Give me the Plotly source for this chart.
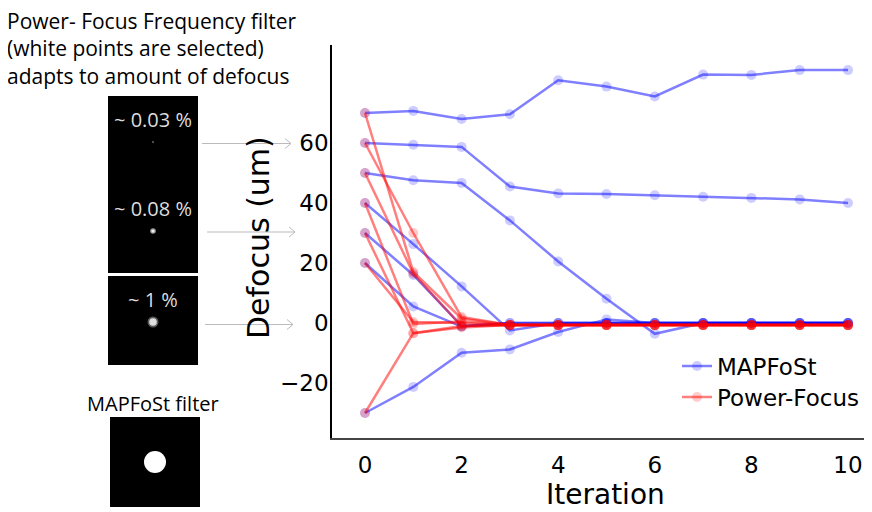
import plotly.graph_objects as go

ITER = list(range(11))

# MAPFoSt runs (defocus per iteration)
MAP_70 = [70, 70.7, 68, 69.6, 80.9, 78.8, 75.5, 82.8, 82.7, 84.3, 84.3]
MAP_60 = [60, 59.4, 58.7, 45.5, 43.2, 43.0, 42.6, 42.1, 41.7, 41.2, 40.0]
MAP_50 = [50, 47.6, 46.7, 34.2, 20.5, 8.1, -3.6, 0, 0, 0, 0]
MAP_40 = [40, 26.3, 12.2, -2.5, 0, 0, 0, 0, 0, 0, 0]
MAP_30 = [30, 16.0, -1.0, 0, 0, 0, 0, 0, 0, 0, 0]
MAP_20 = [20, 5.5, -1.2, 0, 0, 0, 0, 0, 0, 0, 0]
MAP_M30 = [-30, -21.3, -9.9, -8.8, -3.0, 1.2, 0, 0, 0, 0, 0]

# Power-Focus runs
PF_70 = [70, 17.0, 1.5, -0.7, -0.7, -0.7, -0.7, -0.7, -0.7, -0.7, -0.7]
PF_60 = [60, 30.0, 2.0, -0.7, -0.7, -0.7, -0.7, -0.7, -0.7, -0.7, -0.7]
PF_50 = [50, 16.5, -1.0, -0.7, -0.7, -0.7, -0.7, -0.7, -0.7, -0.7, -0.7]
PF_40 = [40, -0.3, 0.5, -0.7, -0.7, -0.7, -0.7, -0.7, -0.7, -0.7, -0.7]
PF_30 = [30, -3.4, -1.5, -0.7, -0.7, -0.7, -0.7, -0.7, -0.7, -0.7, -0.7]
PF_20 = [20, 0.3, 0.0, -0.7, -0.7, -0.7, -0.7, -0.7, -0.7, -0.7, -0.7]
PF_M30 = [-30, -3.4, -1.0, -0.7, -0.7, -0.7, -0.7, -0.7, -0.7, -0.7, -0.7]

MAP_RUNS = [MAP_70, MAP_60, MAP_50, MAP_40, MAP_30, MAP_20, MAP_M30]
PF_RUNS = [PF_70, PF_60, PF_50, PF_40, PF_30, PF_20, PF_M30]

Y_TICKS = [-20, 0, 20, 40, 60]
X_TICKS = [0, 2, 4, 6, 8, 10]

OFF = 8  # page body margin
W, H = 872 - 2 * OFF, 512 - OFF
L, R, T, B = 332 - OFF, 0, 45 - OFF, (H + OFF) - 438
PW, PH = W - L - R, H - T - B
X0_PX, X_STEP = 365, 48.3  # window pixel of iteration 0, pixels per iteration


def px(x):  # window pixel -> paper
    return (x - OFF - L) / PW


def py(y):
    return (438 - y) / PH


fig = go.Figure()

for i, run in enumerate(MAP_RUNS):
    fig.add_trace(go.Scatter(
        x=ITER, y=run, mode="lines+markers", name="MAPFoSt",
        legend="legend", showlegend=(i == 0),
        line=dict(color="rgba(0,0,255,0.5)", width=2.5),
        marker=dict(color="rgba(0,0,255,0.2)", size=10, line=dict(width=0)),
    ))
for i, run in enumerate(PF_RUNS):
    fig.add_trace(go.Scatter(
        x=ITER, y=run, mode="lines+markers", name="Power-Focus",
        legend="legend2", showlegend=(i == 0),
        line=dict(color="rgba(255,0,0,0.5)", width=2.5),
        marker=dict(color="rgba(255,0,0,0.2)", size=10, line=dict(width=0)),
    ))

shapes = []
annotations = []


def text(t, x, y, size, color="black", family="Open Sans", xanchor="center", angle=0):
    annotations.append(dict(text=t, x=px(x), y=py(y), xref="paper", yref="paper",
                            xanchor=xanchor, yanchor="middle", showarrow=False,
                            textangle=angle, font=dict(family=family, size=size, color=color)))


# axis titles
text("Iteration", 605, 494, 28, family="DejaVu Sans")
text("Defocus (um)", 258, 238, 30, family="DejaVu Sans", angle=-90)

# left header text
text("Power- Focus Frequency filter", 5, 21, 21, xanchor="left")
text("(white points are selected)", 5, 48, 21, xanchor="left")
text("adapts to amount of defocus", 5, 76, 21, xanchor="left")

# filter images (black panels)
shapes.append(dict(type="rect", xref="paper", yref="paper", x0=px(108), x1=px(198),
                   y0=py(273), y1=py(96), fillcolor="black", line=dict(width=0)))
shapes.append(dict(type="rect", xref="paper", yref="paper", x0=px(108), x1=px(198),
                   y0=py(365), y1=py(276), fillcolor="black", line=dict(width=0)))
text("~ 0.03 %", 153, 119, 20, color="#dddddd")
text("~ 0.08 %", 153, 209, 20, color="#dddddd")
text("~ 1 %", 153, 299, 20, color="#dddddd")


def circ(cx, cy, r, color):
    shapes.append(dict(type="circle", xref="paper", yref="paper",
                       x0=px(cx - r), x1=px(cx + r), y0=py(cy + r), y1=py(cy - r),
                       fillcolor=color, line=dict(width=0)))


circ(153, 142, 0.8, "#aaaaaa")
circ(153, 231, 2.8, "rgba(255,255,255,0.6)")
circ(153, 231, 1.6, "#eeeeee")
circ(153, 322, 5.5, "rgba(255,255,255,0.35)")
circ(153, 322, 3.8, "rgba(255,255,255,0.8)")

text("MAPFoSt filter", 153, 403, 20)
shapes.append(dict(type="rect", xref="paper", yref="paper", x0=px(110), x1=px(200),
                   y0=py(507), y1=py(417), fillcolor="black", line=dict(width=0)))
circ(155, 462, 11, "white")

# arrows to axis
for x0, x1, yy in [(202, 291, 143.5), (207, 295, 232), (205, 293, 324.5)]:
    shapes.append(dict(type="line", xref="paper", yref="paper", x0=px(x0), x1=px(x1),
                       y0=py(yy), y1=py(yy), line=dict(color="#bbbbbb", width=1)))
    shapes.append(dict(type="path", xref="paper", yref="paper",
                       path=f"M {px(x1-6)} {py(yy-5)} L {px(x1)} {py(yy)} L {px(x1-6)} {py(yy+5)}",
                       line=dict(color="#bbbbbb", width=1)))

legend_common = dict(xanchor="left", yanchor="middle",
                     font=dict(family="DejaVu Sans", size=23, color="black"),
                     bgcolor="rgba(0,0,0,0)")

fig.update_layout(
    width=W, height=H, autosize=False,
    margin=dict(l=L, r=R, t=T, b=B, autoexpand=False),
    paper_bgcolor="white", plot_bgcolor="white",
    shapes=shapes, annotations=annotations,
    legend=dict(x=px(677), y=py(366), **legend_common),
    legend2=dict(x=px(677), y=py(397), **legend_common),
    xaxis=dict(range=[(L + OFF - X0_PX) / X_STEP, (L + OFF + PW - X0_PX) / X_STEP],
               tickvals=X_TICKS,
               showgrid=False, zeroline=False, showline=True, linecolor="#444444", linewidth=1.5,
               ticks="outside", ticklen=6, tickcolor="rgba(0,0,0,0)",
               tickfont=dict(family="DejaVu Sans", size=23, color="black")),
    yaxis=dict(range=[(323 - 438) / 3, (323 - 45) / 3], tickvals=Y_TICKS,
               showgrid=False, zeroline=False, showline=True, linecolor="black", linewidth=1.5,
               ticks="", ticklen=0, ticklabelstandoff=-3,
               tickfont=dict(family="DejaVu Sans", size=23, color="black")),
)

fig.write_html("out.html")
